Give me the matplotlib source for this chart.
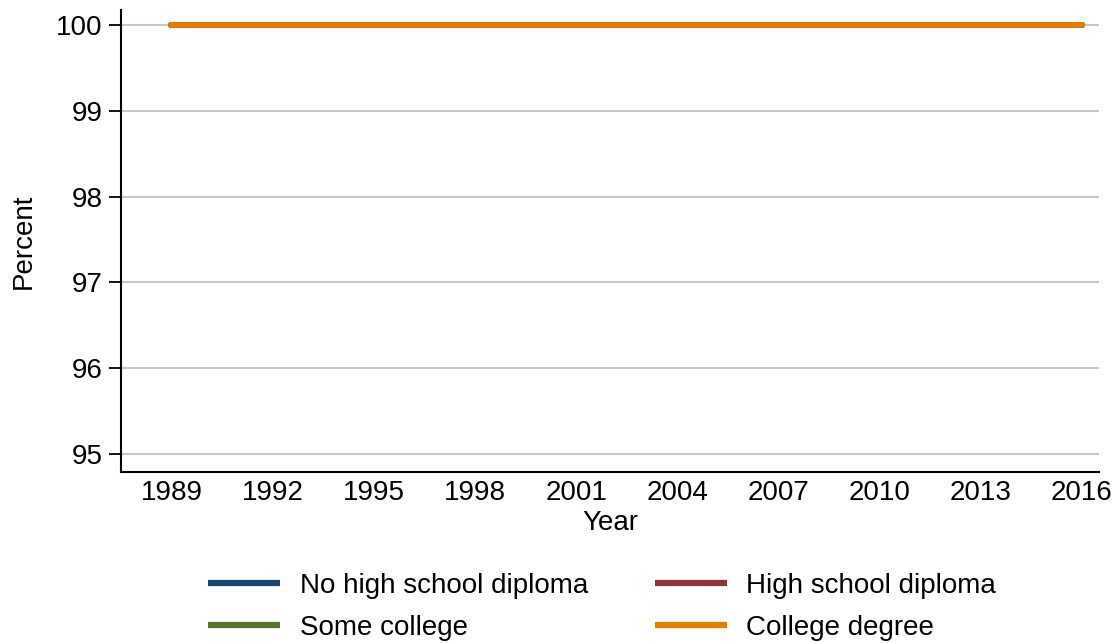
import matplotlib
matplotlib.use("Agg")
import matplotlib.pyplot as plt

plt.rcParams["font.family"] = ["Liberation Sans", "DejaVu Sans"]

years = [1989, 1992, 1995, 1998, 2001, 2004, 2007, 2010, 2013, 2016]
no_hs = [100, 100, 100, 100, 100, 100, 100, 100, 100, 100]
hs_diploma = [100, 100, 100, 100, 100, 100, 100, 100, 100, 100]
some_college = [100, 100, 100, 100, 100, 100, 100, 100, 100, 100]
college = [100, 100, 100, 100, 100, 100, 100, 100, 100, 100]

series = [
    ("No high school diploma", no_hs, "#1a476f"),
    ("High school diploma", hs_diploma, "#90353b"),
    ("Some college", some_college, "#55752f"),
    ("College degree", college, "#e37e00"),
]

fig = plt.figure(figsize=(11.19, 6.43), dpi=100)
ax = fig.add_axes([0.108, 0.266, 0.874, 0.718])

lines = {}
for label, vals, color in series:
    ln, = ax.plot(years, vals, color=color, linewidth=4.2, label=label,
                  solid_capstyle="round", zorder=3)
    lines[label] = ln

ax.set_xlim(1987.5, 2016.5)
ax.set_ylim(94.79, 100.17)
ax.set_yticks([95, 96, 97, 98, 99, 100])
ax.set_xticks(years)
ax.grid(axis="y", color="#c8c8c8", linewidth=1.5, zorder=0)

for side in ["top", "right"]:
    ax.spines[side].set_visible(False)
for side in ["left", "bottom"]:
    ax.spines[side].set_linewidth(1.5)

ax.tick_params(axis="y", length=9, width=1.3, labelsize=20, pad=4)
ax.tick_params(axis="x", length=0, labelsize=20, pad=6)

ax.set_xlabel("Year", fontsize=20, labelpad=3)
ax.set_ylabel("Percent", fontsize=20, labelpad=14)

# legend filled column-wise, so reorder to get rows: NoHS/HS, Some/College
order = ["No high school diploma", "Some college", "High school diploma", "College degree"]
leg = fig.legend([lines[k] for k in order], order, loc="upper center",
                 bbox_to_anchor=(0.538, 0.109), ncol=2, frameon=False, fontsize=20,
                 handlelength=2.6, handletextpad=0.7, columnspacing=2.4,
                 labelspacing=0.57, borderaxespad=0, borderpad=0)
for h in leg.legend_handles:
    h.set_solid_capstyle("butt")
    h.set_linewidth(4.5)

fig.savefig("out.png", dpi=100)
